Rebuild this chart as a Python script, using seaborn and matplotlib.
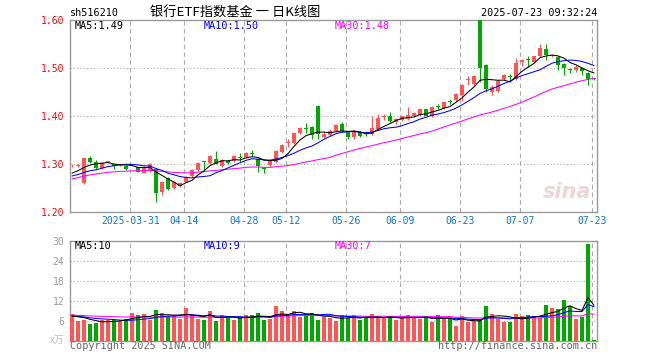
import numpy as np
import pandas as pd
import matplotlib
matplotlib.use("Agg")
import matplotlib.pyplot as plt
import seaborn as sns

# Daily K-line data, 2025-03-17 .. 2025-07-23 (88 trading days)
opens = [
    1.297, 1.296, 1.260, 1.313, 1.305, 1.291, 1.304, 1.300, 1.297, 1.296,
    1.297, 1.293, 1.282, 1.285, 1.290, 1.242, 1.270, 1.250, 1.254, 1.263,
    1.275, 1.288, 1.306, 1.303, 1.311, 1.295, 1.307, 1.307, 1.315, 1.314,
    1.323, 1.311, 1.291, 1.297, 1.305, 1.326, 1.343, 1.344, 1.365, 1.374,
    1.378, 1.421, 1.357, 1.361, 1.369, 1.383, 1.367, 1.357, 1.367, 1.365,
    1.363, 1.372, 1.398, 1.399, 1.387, 1.392, 1.393, 1.401, 1.402, 1.414,
    1.400, 1.420, 1.416, 1.432, 1.433, 1.444, 1.476, 1.467, 1.600, 1.506,
    1.451, 1.453, 1.477, 1.483, 1.478, 1.513, 1.518, 1.513, 1.524, 1.540,
    1.526, 1.522, 1.508, 1.497, 1.496, 1.500, 1.489, 1.479,
]
highs = [
    1.301, 1.300, 1.315, 1.316, 1.309, 1.305, 1.307, 1.301, 1.300, 1.297,
    1.300, 1.294, 1.296, 1.302, 1.292, 1.265, 1.272, 1.264, 1.263, 1.275,
    1.290, 1.305, 1.307, 1.318, 1.327, 1.311, 1.309, 1.318, 1.322, 1.325,
    1.329, 1.313, 1.294, 1.310, 1.329, 1.342, 1.352, 1.366, 1.378, 1.385,
    1.380, 1.422, 1.366, 1.372, 1.384, 1.388, 1.369, 1.370, 1.369, 1.369,
    1.401, 1.404, 1.404, 1.409, 1.396, 1.401, 1.418, 1.409, 1.416, 1.415,
    1.421, 1.425, 1.432, 1.436, 1.448, 1.467, 1.484, 1.486, 1.600, 1.508,
    1.464, 1.474, 1.487, 1.488, 1.521, 1.519, 1.524, 1.526, 1.549, 1.549,
    1.530, 1.525, 1.510, 1.500, 1.507, 1.502, 1.491, 1.480,
]
lows = [
    1.294, 1.294, 1.258, 1.303, 1.290, 1.289, 1.302, 1.290, 1.295, 1.287,
    1.295, 1.283, 1.281, 1.283, 1.220, 1.236, 1.245, 1.248, 1.252, 1.262,
    1.272, 1.286, 1.286, 1.300, 1.299, 1.293, 1.300, 1.305, 1.305, 1.312,
    1.317, 1.284, 1.281, 1.295, 1.303, 1.322, 1.336, 1.342, 1.362, 1.364,
    1.353, 1.353, 1.355, 1.358, 1.367, 1.366, 1.352, 1.353, 1.356, 1.358,
    1.361, 1.370, 1.391, 1.387, 1.384, 1.390, 1.391, 1.398, 1.400, 1.399,
    1.398, 1.414, 1.414, 1.425, 1.431, 1.432, 1.465, 1.465, 1.471, 1.451,
    1.443, 1.450, 1.475, 1.475, 1.476, 1.505, 1.503, 1.511, 1.522, 1.517,
    1.522, 1.495, 1.486, 1.490, 1.492, 1.486, 1.465, 1.474,
]
closes = [
    1.298, 1.297, 1.312, 1.305, 1.291, 1.303, 1.305, 1.295, 1.298, 1.289,
    1.298, 1.284, 1.294, 1.300, 1.240, 1.263, 1.247, 1.262, 1.261, 1.272,
    1.288, 1.303, 1.304, 1.316, 1.301, 1.309, 1.303, 1.316, 1.313, 1.323,
    1.321, 1.295, 1.289, 1.308, 1.327, 1.339, 1.345, 1.364, 1.375, 1.372,
    1.360, 1.362, 1.363, 1.369, 1.382, 1.368, 1.357, 1.368, 1.359, 1.363,
    1.375, 1.395, 1.399, 1.389, 1.394, 1.399, 1.402, 1.406, 1.414, 1.401,
    1.419, 1.418, 1.430, 1.430, 1.446, 1.465, 1.478, 1.483, 1.500, 1.456,
    1.461, 1.472, 1.485, 1.481, 1.510, 1.517, 1.516, 1.524, 1.541, 1.527,
    1.527, 1.507, 1.501, 1.495, 1.503, 1.494, 1.478, 1.478,
]
volumes = [
    8.0, 6.0, 6.2, 5.0, 5.4, 6.2, 6.2, 6.4, 6.0, 6.6,
    8.4, 7.7, 8.0, 6.2, 9.3, 8.3, 7.6, 7.4, 6.5, 9.8,
    7.7, 6.5, 6.2, 8.9, 6.0, 7.7, 7.0, 6.4, 7.0, 7.7,
    7.7, 8.5, 6.2, 6.5, 10.4, 8.9, 7.7, 8.9, 7.2, 8.0,
    8.5, 6.2, 7.3, 7.0, 5.9, 7.7, 7.0, 7.7, 6.2, 7.0,
    8.0, 7.0, 7.0, 7.0, 6.2, 7.2, 7.7, 7.2, 6.7, 7.0,
    5.7, 7.7, 6.7, 7.0, 4.4, 7.4, 5.7, 6.0, 6.7, 10.4,
    8.0, 6.7, 5.6, 5.6, 8.0, 7.4, 7.7, 7.2, 7.0, 10.7,
    10.0, 9.5, 12.2, 10.4, 6.5, 7.2, 29.0, 0.4,
]
# closes / volumes before the window, only needed for the moving averages
hist_closes = [
    1.215, 1.220, 1.228, 1.236, 1.245, 1.252, 1.268, 1.272, 1.275, 1.278,
    1.280, 1.278, 1.282, 1.285, 1.283, 1.286, 1.288, 1.285, 1.282, 1.280,
    1.266, 1.270, 1.268, 1.272, 1.269, 1.272, 1.278, 1.280, 1.277,
]
hist_volumes = [
    8.0, 7.8, 8.2, 7.6, 7.9, 8.1, 7.7, 7.5, 8.0, 7.8,
    7.9, 7.6, 8.2, 7.7, 7.9, 8.0, 7.8, 7.6, 7.9, 8.1,
    7.4, 7.6, 7.8, 7.3, 7.5, 7.2, 7.4, 7.6, 7.3,
]

date_labels = ["2025-03-31", "04-14", "04-28", "05-12", "05-26",
               "06-09", "06-23", "07-07", "07-23"]
date_index = [10, 19, 29, 36, 46, 55, 65, 75, 87]
price_ticks = [1.20, 1.30, 1.40, 1.50, 1.60]
vol_ticks = [6, 12, 18, 24, 30]

RED = "#ff5555"
GREEN = "#00a800"
GRID = "#aaaaaa"
FRAME = "#999999"

df = pd.DataFrame({"open": opens, "high": highs, "low": lows,
                   "close": closes, "volume": volumes})
df["x"] = np.arange(len(df))
df["up"] = df["close"] >= df["open"]
n_hist = len(hist_closes)
all_close = pd.Series(hist_closes + closes)
all_vol = pd.Series(hist_volumes + volumes)
for w in (5, 10, 30):
    df[f"ma{w}"] = all_close.rolling(w).mean().iloc[n_hist:].values
    df[f"vma{w}"] = all_vol.rolling(w).mean().iloc[n_hist:].values

sns.set_theme(style="white")
plt.rcParams["font.family"] = ["DejaVu Sans Mono", "Noto Sans CJK SC"]

W, H = 660, 360
fig = plt.figure(figsize=(6.6, 3.6), dpi=100)
ax = fig.add_axes([70 / W, 1 - 212 / H, 527 / W, 192 / H])
axv = fig.add_axes([70 / W, 1 - 341 / H, 527 / W, 100 / H])

# Candles
cols = np.where(df["up"], RED, GREEN)
ax.vlines(df["x"], df["low"], df["high"], colors=cols, linewidth=0.8, zorder=3)
body_lo = np.minimum(df["open"], df["close"])
body_h = np.maximum((df["close"] - df["open"]).abs(), 0.0016)
ax.bar(df["x"], body_h, bottom=body_lo, width=0.78, color=cols,
       linewidth=0, zorder=3)

# Price moving averages
for col, c in (("ma30", "#ff00ff"), ("ma10", "#0000ff"), ("ma5", "black")):
    sns.lineplot(x=df["x"], y=df[col], ax=ax, color=c, linewidth=0.75, zorder=4)

# Volume bars + MAs
axv.bar(df["x"], df["volume"], width=0.82, color=cols, linewidth=0, zorder=3)
for col, c in (("vma30", "#ff00ff"), ("vma10", "#0000ff"), ("vma5", "black")):
    sns.lineplot(x=df["x"], y=df[col], ax=axv, color=c, linewidth=0.75, zorder=4)

grid_x = [i - 0.25 for i in date_index]
for a, lim, hticks in ((ax, (1.20, 1.60), price_ticks[1:-1]),
                       (axv, (0, 30), vol_ticks[:-1])):
    a.set_xlim(-0.33, 87.5)
    a.set_ylim(*lim)
    for gx in grid_x:
        a.axvline(gx, color=GRID, linestyle=(0, (4, 3)), linewidth=0.8, zorder=1)
    for hy in hticks:
        a.axhline(hy, color=GRID, linestyle=(0, (1, 2)), linewidth=0.8, zorder=1)
    for s in a.spines.values():
        s.set_color(FRAME)
        s.set_linewidth(1)
    a.set_xlabel("")
    a.set_ylabel("")

ax.set_yticks(price_ticks)
ax.set_yticklabels([f"{v:.2f}" for v in price_ticks])
ax.tick_params(axis="y", length=0, pad=4, labelsize=7, labelcolor="red")
ax.set_xticks(grid_x)
ax.set_xticklabels(date_labels)
ax.tick_params(axis="x", length=0, pad=3, labelsize=7, labelcolor="#1473c8")

axv.set_yticks(vol_ticks)
axv.set_yticklabels([str(v) for v in vol_ticks])
axv.tick_params(axis="y", length=0, pad=4, labelsize=7, labelcolor="#999999")
axv.set_xticks([])

# Header and labels
def px(x, y):
    return x / W, 1 - y / H

fig.text(*px(70, 13), "sh516210", fontsize=7.3, va="center", color="black")
fig.text(*px(150, 13), "银行ETF指数基金 一 日K线图", fontsize=9.5, va="center",
         family=["Noto Sans CJK SC", "DejaVu Sans"], color="black")
fig.text(*px(597, 13), "2025-07-23 09:32:24", fontsize=7.3, va="center",
         ha="right", color="black")

fig.text(*px(75, 26), "MA5:1.49", fontsize=7.3, va="center", color="black")
fig.text(*px(204, 26), "MA10:1.50", fontsize=7.3, va="center", color="#0000ff")
fig.text(*px(335, 26), "MA30:1.48", fontsize=7.3, va="center", color="#ff00ff")
fig.text(*px(75, 246), "MA5:10", fontsize=7.3, va="center", color="black")
fig.text(*px(204, 246), "MA10:9", fontsize=7.3, va="center", color="#0000ff")
fig.text(*px(335, 246), "MA30:7", fontsize=7.3, va="center", color="#ff00ff")

fig.text(*px(64, 340), "x万", fontsize=7, va="center", ha="right",
         color="#bbbbbb", family=["Noto Sans CJK SC", "DejaVu Sans"])
fig.text(*px(70, 346), "Copyright 2025 SINA.COM", fontsize=7.3, va="center",
         color="#666666")
fig.text(*px(597, 346), "http://finance.sina.com.cn", fontsize=7.3,
         va="center", ha="right", color="#666666")
ax.text(0.99, 0.05, "sina", transform=ax.transAxes, fontsize=15,
        fontstyle="italic", fontweight="bold", ha="right", va="bottom",
        color="#ecd6d6", family="DejaVu Sans", zorder=0)

fig.savefig("out.png", dpi=100)
